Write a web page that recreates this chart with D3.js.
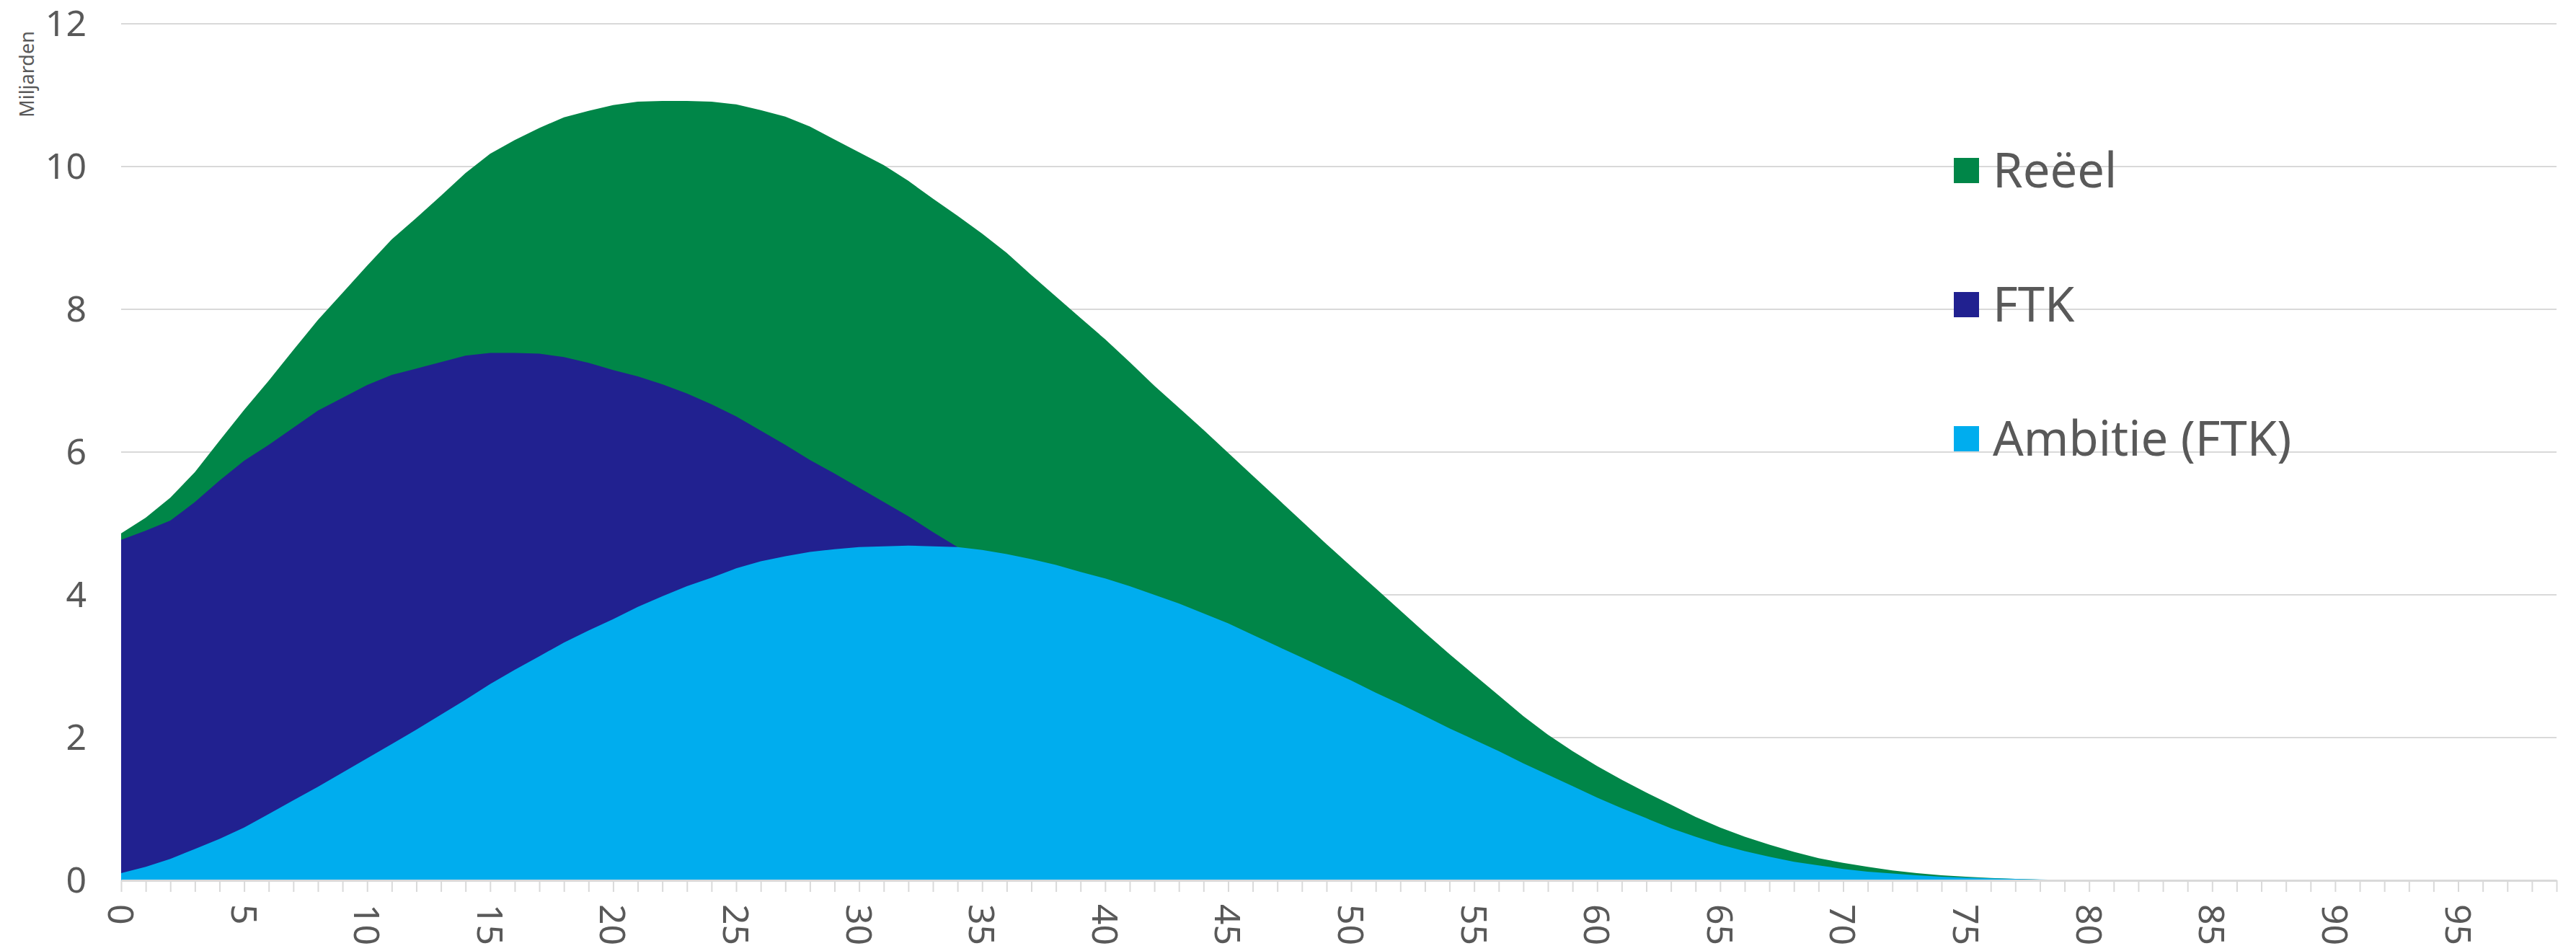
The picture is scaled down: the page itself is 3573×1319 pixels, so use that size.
<!DOCTYPE html>
<html>
<head>
<meta charset="utf-8">
<script src="https://cdn.jsdelivr.net/npm/d3@7"></script>
<style>
  html, body { margin: 0; padding: 0; background: #ffffff; }
  svg { display: block; }
  text { font-family: "Noto Sans", "Open Sans", sans-serif; fill: #595959; }
</style>
</head>
<body>
<svg id="chart" width="3573" height="1319"></svg>
<script>
// Years from now, 0 .. 99
const years = d3.range(0, 100);

// Series values in billions (Miljarden)
const reeel = [
  4.86, 5.08, 5.36, 5.72, 6.16, 6.59, 7.00, 7.43, 7.85, 8.23,
  8.61, 8.98, 9.28, 9.59, 9.91, 10.18, 10.37, 10.54, 10.69, 10.78,
  10.86, 10.91, 10.92, 10.92, 10.91, 10.87, 10.79, 10.70, 10.56, 10.38,
  10.20, 10.02, 9.80, 9.55, 9.31, 9.06, 8.79, 8.48, 8.18, 7.88,
  7.58, 7.26, 6.93, 6.62, 6.31, 5.99, 5.67, 5.35, 5.03, 4.71,
  4.40, 4.09, 3.78, 3.47, 3.17, 2.88, 2.59, 2.30, 2.04, 1.81,
  1.60, 1.41, 1.23, 1.06, 0.89, 0.74, 0.61, 0.50, 0.40, 0.31,
  0.245, 0.19, 0.14, 0.10, 0.07, 0.05, 0.033, 0.02, 0.01, 0.005,
  0, 0, 0, 0, 0, 0, 0, 0, 0, 0,
  0, 0, 0, 0, 0, 0, 0, 0, 0, 0
];

// FTK: visible up to year 34, beyond that it lies under Ambitie (FTK)
const ftk = [
  4.77, 4.90, 5.04, 5.30, 5.60, 5.88, 6.10, 6.34, 6.58, 6.76,
  6.94, 7.08, 7.17, 7.26, 7.35, 7.39, 7.39, 7.38, 7.33, 7.25,
  7.15, 7.06, 6.95, 6.82, 6.67, 6.50, 6.30, 6.10, 5.89, 5.70,
  5.50, 5.30, 5.10, 4.88, 4.67
];

const ambitie = [
  0.10, 0.19, 0.30, 0.44, 0.58, 0.74, 0.93, 1.12, 1.31, 1.51,
  1.71, 1.91, 2.11, 2.32, 2.53, 2.75, 2.95, 3.14, 3.33, 3.50,
  3.66, 3.83, 3.98, 4.12, 4.24, 4.37, 4.47, 4.54, 4.60, 4.64,
  4.67, 4.68, 4.69, 4.68, 4.67, 4.63, 4.57, 4.50, 4.42, 4.32,
  4.23, 4.12, 4.00, 3.88, 3.74, 3.60, 3.44, 3.28, 3.12, 2.96,
  2.80, 2.63, 2.47, 2.30, 2.13, 1.97, 1.81, 1.64, 1.48, 1.32,
  1.16, 1.01, 0.87, 0.73, 0.61, 0.50, 0.41, 0.33, 0.26, 0.21,
  0.16, 0.12, 0.095, 0.07, 0.05, 0.038, 0.028, 0.019, 0.012, 0.006,
  0.003, 0, 0, 0, 0, 0, 0, 0, 0, 0,
  0, 0, 0, 0, 0, 0, 0, 0, 0, 0
];

const yTicks = [0, 2, 4, 6, 8, 10, 12];
const xLabelTicks = d3.range(0, 100, 5);

const seriesNames = ["Reëel", "FTK", "Ambitie (FTK)"];
const seriesColors = ["#008648", "#212190", "#00ADEE"];
const seriesValues = [reeel, ftk, ambitie];

const svg = d3.select("#chart");
const plotLeft = 168, plotRight = 3546, plotTop = 33, plotBottom = 1221;

const x = d3.scaleLinear().domain([0, 99]).range([plotLeft, plotRight]);
const y = d3.scaleLinear().domain([0, 12]).range([plotBottom, plotTop]);

// horizontal gridlines
svg.append("g")
  .selectAll("line")
  .data(yTicks.filter(d => d > 0))
  .join("line")
  .attr("x1", plotLeft).attr("x2", plotRight)
  .attr("y1", d => y(d)).attr("y2", d => y(d))
  .attr("stroke", "#d9d9d9").attr("stroke-width", 2);

// overlapping areas, drawn back to front
const area = d3.area()
  .x((d, i) => x(years[i]))
  .y0(y(0))
  .y1(d => y(d));

svg.append("g")
  .selectAll("path")
  .data(seriesValues)
  .join("path")
  .attr("d", d => area(d))
  .attr("fill", (d, i) => seriesColors[i]);

// x axis: a tick per year, a label every five years
const xAxis = d3.axisBottom(x)
  .tickValues(years)
  .tickSize(16)
  .tickSizeOuter(0)
  .tickFormat("");
const gx = svg.append("g")
  .attr("transform", `translate(0,${plotBottom})`)
  .call(xAxis);
gx.select(".domain").attr("stroke", "#d9d9d9").attr("stroke-width", 3);
gx.selectAll(".tick line").attr("stroke", "#d9d9d9").attr("stroke-width", 2);

svg.append("g")
  .selectAll("text")
  .data(xLabelTicks)
  .join("text")
  .attr("transform", d => `translate(${x(d)},${plotBottom + 33}) rotate(90)`)
  .attr("dy", "0.36em")
  .attr("text-anchor", "start")
  .style("font-size", "50px")
  .text(d => d);

// y axis labels
const yAxis = d3.axisLeft(y).tickValues(yTicks).tickSize(0).tickPadding(48);
const gy = svg.append("g")
  .attr("transform", `translate(${plotLeft},0)`)
  .call(yAxis);
gy.select(".domain").remove();
gy.selectAll("text")
  .style("font-family", "\"Noto Sans\", sans-serif")
  .style("font-size", "50px")
  .attr("fill", "#595959");

// axis title
svg.append("text")
  .attr("transform", "translate(47,103) rotate(-90)")
  .attr("text-anchor", "middle")
  .style("font-size", "27px")
  .text("Miljarden");

// legend
const legend = svg.append("g")
  .selectAll("g")
  .data(seriesNames)
  .join("g")
  .attr("transform", (d, i) => `translate(2710,${236.5 + i * 186})`);
legend.append("rect")
  .attr("x", 0).attr("y", -17.5)
  .attr("width", 35).attr("height", 35)
  .attr("fill", (d, i) => seriesColors[i]);
legend.append("text")
  .attr("x", 54).attr("y", 23)
  .style("font-size", "67px")
  .text(d => d);
</script>
</body>
</html>
